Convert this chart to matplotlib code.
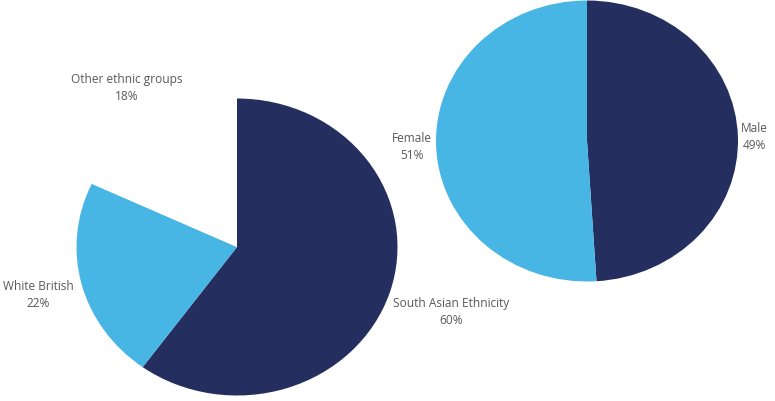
import matplotlib
matplotlib.use("Agg")
import matplotlib.pyplot as plt

plt.rcParams['font.family'] = ['Open Sans', 'DejaVu Sans']

eth_labels = ["South Asian Ethnicity", "White British", "Other ethnic groups"]
eth_values = [60, 22, 18]
sex_labels = ["Male", "Female"]
sex_values = [49, 51]

navy = "#242f5f"
light = "#47b6e4"
text_grey = "#595959"

fig = plt.figure(figsize=(7.75, 4.02), dpi=100)

# left pie, slightly stretched wide like the reference
ax1 = fig.add_axes([76.5 / 775, 5.5 / 402, 321 / 775, 297 / 402])
# right pie
ax2 = fig.add_axes([436 / 775, 119.5 / 402, 302 / 775, 281 / 402])


def draw(ax, values, labels, colors, dists):
    wedges, texts = ax.pie(values, labels=[f"{l}\n{v}%" for l, v in zip(labels, values)],
                           colors=colors, startangle=90, counterclock=False,
                           labeldistance=1.0,
                           textprops=dict(fontsize=8.6, color=text_grey, linespacing=1.4))
    for t, d in zip(texts, dists):
        x, y = t.get_position()
        t.set_position((x * d, y * d))
        t.set_ha("center")
        t.set_va("center")
    ax.set_aspect("auto")
    ax.set_xlim(-1, 1)
    ax.set_ylim(-1, 1)


draw(ax1, eth_values, eth_labels, [navy, light, "white"], [1.4, 1.28, 1.28])
draw(ax2, sex_values, sex_labels, [navy, light], [1.11, 1.16])

fig.savefig("out.png", dpi=100)
